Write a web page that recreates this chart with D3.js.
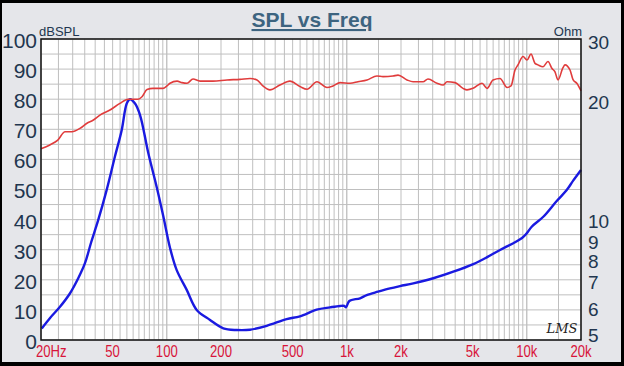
<!DOCTYPE html>
<html><head><meta charset="utf-8">
<script src="https://cdn.jsdelivr.net/npm/d3@7"></script>
<style>
html,body{margin:0;padding:0;background:#e5e6ea;}
svg{display:block;font-family:Arial,"Liberation Sans",sans-serif;}
</style></head>
<body>
<svg id="chart" width="624" height="366"></svg>
<script>
// ---- data ----
const title = "SPL vs Freq";
const leftUnit = "dBSPL";
const rightUnit = "Ohm";
const splTicks = [0,10,20,30,40,50,60,70,80,90,100];
const ohmTicks = [5,6,7,8,9,10,20,30];
const freqTicks = [20,50,100,200,500,1000,2000,5000,10000,20000];
const freqTickLabels = ["20Hz","50","100","200","500","1k","2k","5k","10k","20k"];

const splFreq = [20,22.4,24.8,27.2,29.7,32.9,36,38.9,42.5,48.3,54.9,60.9,69.2,72.8,77.6,83.8,95.2,100.2,104.2,114,121.4,129.5,139.8,152.9,180.5,216,255,290,317,342,374,425,483,549,601,683,776,838,917,1042,1154,1295,1471,1589,1805,1925,2160,2333,2651,2825,3170,3424,3604,3990,4422,4652,5024,5637,6013,6492,7097,7763,8170,8600,8934,9527,10024,10549,11100,11536,12300,13111,13800,14340,14900,15887,16300,17380,18060,19000,20000];
const splDb = [63.5,64.8,66.4,69.2,69.2,70.3,72.0,73.0,74.7,76.4,78.6,80.0,80.0,80.8,83.2,83.6,83.6,84.4,85.3,86.0,85.5,85.3,86.7,86.0,86.0,86.4,86.6,86.9,86.4,84.4,83.1,84.7,86.0,84.2,83.3,85.8,83.9,84.4,85.5,85.3,85.8,86.4,87.7,87.5,87.7,88.0,86.4,85.8,85.8,86.7,85.3,84.7,85.8,85.5,83.6,83.1,83.6,85.3,83.6,86.4,86.9,83.9,84.4,89.7,91.4,94.2,93.0,95.0,91.9,91.4,90.8,92.5,90.2,89.1,86.4,90.5,91.4,89.7,86.5,85.2,82.8];

const zFreq = [20.2,22.4,25.5,29.0,32.2,35.1,38.0,41.6,46.3,51.5,56.1,59.9,62.4,66.6,71.0,78.9,87.9,95.6,104.2,113.5,129,146.6,173.8,206,244.5,290,359,463,549,680,806,917,968,990,1032,1184,1290,1490,1738,1975,2341,3023,3905,5040,5987,7097,8414,9405,9981,10644,12347,14660,16660,18130,20000];
const zOhm = [5.35,5.68,6.07,6.57,7.17,7.83,8.85,10.08,12.0,14.6,17.0,19.9,20.4,19.9,18.6,14.9,12.2,10.3,8.56,7.52,6.70,5.96,5.62,5.35,5.30,5.31,5.43,5.65,5.74,5.97,6.05,6.10,6.10,6.05,6.28,6.38,6.50,6.63,6.76,6.85,6.96,7.17,7.45,7.79,8.10,8.46,8.80,9.07,9.32,9.69,10.27,11.26,12.0,12.7,13.5];

// ---- layout ----
const W = 624, H = 366;
const L = 41, R = 581, T = 39, B = 340;
const svg = d3.select("#chart");

svg.append("rect").attr("x",0).attr("y",0).attr("width",W).attr("height",H).attr("fill","#e5e6ea");

const x = d3.scaleLog().domain([20,20000]).range([L,R]);
const yL = d3.scaleLinear().domain([0,100]).range([B,T]);
const yR = d3.scaleLog().domain([5,29]).range([B,T]);

svg.append("rect").attr("x",L).attr("y",T).attr("width",R-L).attr("height",B-T).attr("fill","#ffffff");

// grid
const vGrid = [];
[10,100,1000,10000].forEach(dec => {
  for (let m = 1; m < 10; m += 0.5) {
    const f = dec*m;
    if (f >= 20 && f <= 20000) vGrid.push(f);
  }
});
const hGrid = d3.range(0,101,5);
const g = svg.append("g");
g.selectAll("line.v").data(vGrid).join("line")
  .attr("x1",d=>x(d)).attr("x2",d=>x(d)).attr("y1",T).attr("y2",B)
  .attr("stroke",d=>[100,1000,10000].includes(d)?"#a9a9a9":"#bfbfbf").attr("stroke-width",1);
g.selectAll("line.h").data(hGrid).join("line")
  .attr("x1",L).attr("x2",R).attr("y1",d=>yL(d)).attr("y2",d=>yL(d))
  .attr("stroke","#bfbfbf").attr("stroke-width",1);

// lines
const splData = splFreq.map((f,i)=>[f,splDb[i]]);
const zData = zFreq.map((f,i)=>[f,zOhm[i]]);
svg.append("path").datum(zData)
  .attr("d", d3.line().x(d=>x(d[0])).y(d=>yR(d[1])).curve(d3.curveCatmullRom.alpha(0.5)))
  .attr("fill","none").attr("stroke","#1a1ae0").attr("stroke-width",2.4);
svg.append("path").datum(splData)
  .attr("d", d3.line().x(d=>x(d[0])).y(d=>yL(d[1])).curve(d3.curveMonotoneX))
  .attr("fill","none").attr("stroke","#e03c3c").attr("stroke-width",1.6);

// plot frame
svg.append("rect").attr("x",L).attr("y",T).attr("width",R-L).attr("height",B-T)
  .attr("fill","none").attr("stroke","#111").attr("stroke-width",1.5);

// left axis
const axL = svg.append("g").attr("transform",`translate(${L},0)`)
  .call(d3.axisLeft(yL).tickValues(splTicks).tickSize(0).tickPadding(4).tickFormat(d3.format("d")));
axL.select(".domain").remove();
axL.selectAll("text").attr("font-size",21).attr("fill","#22364f")
  .attr("font-family","Arial, 'Liberation Sans', sans-serif").attr("dy","0.4em");

// right axis
const axR = svg.append("g").attr("transform",`translate(${R},0)`)
  .call(d3.axisRight(yR).tickValues(ohmTicks).tickSize(0).tickPadding(7).tickFormat(d3.format("d")));
axR.select(".domain").remove();
axR.selectAll(".tick").attr("transform", d => {
  let yy = yR(d);
  yy = Math.max(T+3, Math.min(B-5, yy));
  if (d === 9) yy += 3;
  if (d === 8) yy += 2;
  return `translate(0,${yy})`;
});
axR.selectAll("text").attr("font-size",19).attr("fill","#22364f")
  .attr("font-family","Arial, 'Liberation Sans', sans-serif").attr("dy","0.36em");

// x axis labels
const axX = svg.append("g");
axX.selectAll("text").data(freqTicks).join("text")
  .attr("transform",(d,i)=>`translate(${i===0 ? x(d)-5 : x(d)},357) scale(0.82,1)`)
  .attr("text-anchor",(d,i)=>i===0?"start":"middle")
  .attr("font-size",16).attr("fill","#d8143a")
  .text((d,i)=>freqTickLabels[i]);

// unit labels
svg.append("text").attr("x",39).attr("y",36).attr("font-size",13).attr("fill","#22364f").text(leftUnit);
svg.append("text").attr("x",582).attr("y",36).attr("text-anchor","end").attr("font-size",13).attr("fill","#22364f").text(rightUnit);

// title
svg.append("text").attr("x",312).attr("y",27).attr("text-anchor","middle")
  .attr("font-size",21).attr("font-weight","bold").attr("fill","#3d6480")
  .style("text-decoration","underline").text(title);

// logo
svg.append("text").attr("x",562).attr("y",333).attr("text-anchor","middle")
  .attr("font-size",13).attr("font-style","italic").attr("font-family","'DejaVu Serif', serif")
  .attr("fill","#222").text("LMS");

// outer black border
svg.append("path")
  .attr("d",`M0,0H${W}V${H}H0Z M2,3V362H621V3Z`)
  .attr("fill","#000").attr("fill-rule","evenodd");
</script>
</body></html>
